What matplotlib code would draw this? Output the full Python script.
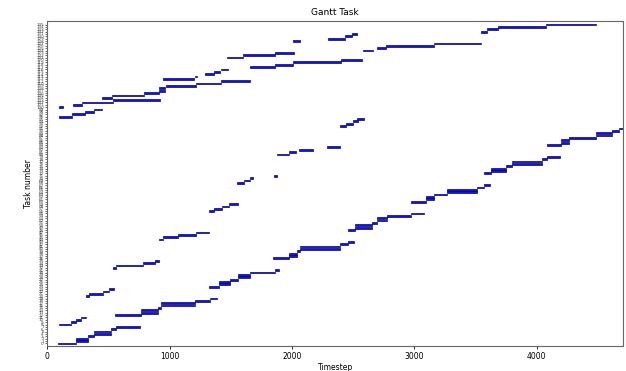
import matplotlib
matplotlib.use("Agg")
import matplotlib.pyplot as plt

# start / end timestep of every task, task number = position in the list
task_start = [
    # tasks 0-11
    90, 237, 237, 332, 381, 381, 522, 558,
    93, 191, 237, 272,
    # tasks 12-23
    557, 769, 769, 904, 931, 931, 1204, 1327,
    313, 337, 454, 500,
    # tasks 24-35
    1320, 1400, 1400, 1490, 1555, 1555, 1653, 1857,
    536, 563, 781, 882,
    # tasks 36-47
    1847, 1976, 1976, 2041, 2063, 2063, 2394, 2455,
    909, 944, 1071, 1216,
    # tasks 48-59
    2455, 2517, 2517, 2651, 2694, 2694, 2776, 2971,
    1325, 1366, 1426, 1488,
    # tasks 60-71
    2971, 3094, 3094, 3162, 3265, 3265, 3510, 3565,
    1551, 1606, 1660, 1850,
    # tasks 72-83
    3570, 3624, 3624, 3747, 3801, 3801, 4046, 4082,
    1874, 1978, 2060, 2286,
    # tasks 84-95
    4079, 4196, 4196, 4264, 4482, 4482, 4618, 4672,
    2394, 2441, 2495, 2531,
    # tasks 96-135
    95, 204, 305, 381, 93, 212, 283, 536, 446, 528,
    789, 914, 914, 969, 1216, 1420, 949, 1208, 1285, 1366,
    1420, 1657, 1864, 2006, 2400, 1469, 1597, 1857, 2577, 2694,
    2767, 3162, 2008, 2296, 2435, 2487, 3543, 3592, 3679, 4073,
]
task_end = [
    237, 332, 332, 381, 522, 522, 558, 754,
    191, 237, 272, 318,
    769, 904, 904, 931, 1204, 1204, 1327, 1390,
    337, 454, 500, 541,
    1400, 1490, 1490, 1555, 1653, 1653, 1857, 1890,
    563, 781, 882, 909,
    1976, 2041, 2041, 2063, 2394, 2394, 2455, 2504,
    944, 1071, 1216, 1325,
    2517, 2651, 2651, 2694, 2776, 2776, 2971, 3080,
    1366, 1426, 1488, 1556,
    3094, 3162, 3162, 3265, 3510, 3510, 3565, 3619,
    1606, 1657, 1684, 1878,
    3624, 3747, 3747, 3801, 4046, 4046, 4082, 4190,
    1978, 2033, 2169, 2394,
    4196, 4264, 4264, 4482, 4618, 4618, 4672, 4706,
    2441, 2495, 2536, 2585,
    204, 305, 381, 449, 128, 283, 536, 917, 528, 789,
    914, 958, 958, 1216, 1420, 1660, 1196, 1224, 1366, 1415,
    1475, 1864, 2006, 2400, 2571, 1597, 1857, 2014, 2659, 2767,
    3162, 3543, 2068, 2435, 2487, 2528, 3592, 3679, 4073, 4482,
]

n_tasks = len(task_start)
rows = list(range(n_tasks))
durations = [e - s for s, e in zip(task_start, task_end)]

fig = plt.figure(figsize=(6.26, 3.71), dpi=100)
ax = fig.add_axes([0.0756, 0.0674, 0.92, 0.876])

ax.barh(rows, durations, left=task_start, height=0.75,
        color='#1414d2', edgecolor='#00008b', linewidth=0.5)

ax.set_xlim(0, max(task_end))
ax.set_ylim(-1.1, n_tasks + 0.5)
ax.set_yticks(rows)
ax.set_yticklabels([str(r) for r in rows], fontsize=3, color='#444444')
ax.tick_params(axis='y', length=1.5, width=0.4, pad=1)
ax.tick_params(axis='x', labelsize=5.5, length=2, width=0.6, pad=2)

ax.set_title('Gantt Task', fontsize=6.5, pad=4)
ax.set_xlabel('Timestep', fontsize=5.5, labelpad=2)
ax.set_ylabel('Task number', fontsize=5.5, labelpad=2)
for s in ax.spines.values():
    s.set_color('#666666')
    s.set_linewidth(0.8)

fig.savefig('out.png', dpi=100)
